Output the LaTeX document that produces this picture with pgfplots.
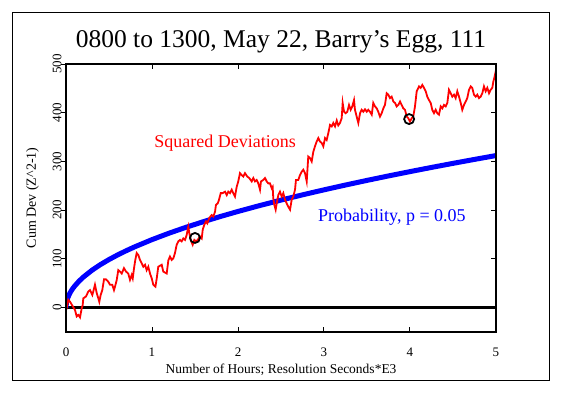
\documentclass[border=0pt]{standalone}
\usepackage{fontspec}
\setmainfont{Liberation Serif}
\usepackage{pgfplots}
\pgfplotsset{compat=1.18}

\begin{document}
\begin{tikzpicture}[x=1pt,y=1pt]
\useasboundingbox (0,0) rectangle (562,396);
\draw[line width=1pt] (12.5,15) rectangle (549.5,383);
\begin{axis}[
  at={(66pt,64pt)}, anchor=south west, scale only axis,
  width=430pt, height=268pt,
  xmin=0, xmax=5, ymin=-50, ymax=500,
  axis line style={line width=1.2pt},
  xtick={0,1,2,3,4,5}, ytick={0,100,200,300,400,500},
  xtick pos=both, xtick align=inside,
  ytick pos=left, ytick align=outside,
  major tick length=5pt,
  every tick/.style={black, line width=1pt},
  /pgf/number format/assume math mode=true,
  ticklabel style={font=\fontsize{13}{15}\selectfont},
  xticklabel style={yshift=-12pt},
  yticklabel style={xshift=4pt, rotate=90, anchor=south},
]
\addplot[black, line width=2.5pt] coordinates {(0,0) (5,0)};
\addplot[blue, line width=5pt] coordinates {
(0,0) (0.005,9.87) (0.01,13.96) (0.02,19.74) (0.04,27.92) (0.06,34.19) (0.08,39.48)
(0.1,44.14) (0.15,54.06) (0.2,62.42) (0.3,76.45) (0.4,88.28) (0.5,98.70) (0.6,108.12)
(0.7,116.78) (0.8,124.84) (1.0,139.58) (1.2,152.90) (1.4,165.15) (1.6,176.55) (1.8,187.27)
(2.0,197.40) (2.25,209.37) (2.5,220.70) (2.75,231.47) (3.0,241.76) (3.25,251.63)
(3.5,261.13) (3.75,270.30) (4.0,279.16) (4.25,287.75) (4.5,296.10) (4.75,304.21) (5.0,312.11)
};
\addplot[red, line width=1.8pt] coordinates {
(0.000,0) (0.008,-1) (0.027,16) (0.047,12) (0.078,3) (0.105,-5) (0.124,-18) (0.143,-15)
(0.163,-20) (0.183,-1) (0.194,5) (0.201,19) (0.233,23) (0.259,33) (0.279,36) (0.306,26)
(0.317,33) (0.337,47) (0.357,30) (0.376,19) (0.387,12) (0.403,26) (0.422,36) (0.442,58)
(0.465,58) (0.492,53) (0.512,47) (0.538,47) (0.558,36) (0.570,43) (0.590,57) (0.608,77)
(0.628,74) (0.648,70) (0.674,81) (0.698,74) (0.724,70) (0.744,57) (0.764,67) (0.776,60)
(0.791,81) (0.806,98) (0.822,112) (0.841,108) (0.860,98) (0.880,91) (0.899,84) (0.919,88)
(0.938,77) (0.957,84) (0.977,70) (0.997,60) (1.015,47) (1.040,43) (1.055,60) (1.073,84)
(1.113,88) (1.131,74) (1.171,70) (1.190,97) (1.209,105) (1.229,98) (1.248,101) (1.267,112)
(1.287,129) (1.306,136) (1.326,139) (1.345,136) (1.364,142) (1.384,139) (1.403,149)
(1.422,166) (1.434,153) (1.450,139) (1.473,129) (1.492,139) (1.512,136) (1.531,139)
(1.558,146) (1.578,142) (1.590,160) (1.608,170) (1.628,177) (1.643,173) (1.666,184)
(1.694,190) (1.713,187) (1.733,197) (1.744,211) (1.764,214) (1.779,221) (1.799,235)
(1.822,235) (1.849,238) (1.869,231) (1.887,238) (1.907,235) (1.927,242) (1.945,235)
(1.965,228) (1.985,248) (2.003,259) (2.023,276) (2.043,272) (2.062,269) (2.081,276)
(2.108,269) (2.131,266) (2.159,259) (2.178,266) (2.198,259) (2.217,262) (2.236,255)
(2.256,242) (2.267,259) (2.294,262) (2.314,266) (2.334,259) (2.352,255) (2.372,255)
(2.392,245) (2.403,248) (2.410,225) (2.422,211) (2.438,201) (2.450,214) (2.469,231)
(2.488,238) (2.508,228) (2.527,235) (2.547,221) (2.566,214) (2.585,207) (2.605,201)
(2.624,221) (2.643,228) (2.663,242) (2.674,262) (2.701,262) (2.721,272) (2.741,279)
(2.759,283) (2.779,276) (2.799,259) (2.810,290) (2.817,310) (2.837,307) (2.857,300)
(2.876,320) (2.895,331) (2.915,341) (2.934,348) (2.953,341) (2.973,338) (2.992,331)
(3.012,348) (3.031,344) (3.050,358) (3.070,375) (3.090,372) (3.108,379) (3.128,372)
(3.148,384) (3.166,374) (3.186,379) (3.206,389) (3.217,420) (3.233,402) (3.252,399)
(3.271,402) (3.291,416) (3.310,406) (3.329,413) (3.349,426) (3.360,406) (3.380,392)
(3.399,379) (3.419,399) (3.438,406) (3.457,402) (3.477,407) (3.497,402) (3.515,406)
(3.535,402) (3.555,396) (3.573,420) (3.593,413) (3.613,409) (3.631,402) (3.651,392)
(3.671,399) (3.690,409) (3.709,416) (3.729,440) (3.748,437) (3.767,430) (3.787,433)
(3.806,423) (3.826,420) (3.845,413) (3.864,416) (3.884,423) (3.903,416) (3.922,409)
(3.942,406) (3.962,392) (3.980,389) (4.000,382) (4.020,389) (4.038,392) (4.058,413)
(4.078,444) (4.097,451) (4.105,454) (4.124,451) (4.143,457) (4.163,451) (4.183,444)
(4.201,433) (4.221,426) (4.241,420) (4.259,406) (4.279,399) (4.299,406) (4.317,399)
(4.337,396) (4.357,413) (4.376,409) (4.395,416) (4.415,413) (4.434,420) (4.453,447)
(4.473,440) (4.492,433) (4.512,437) (4.531,430) (4.550,444) (4.570,433) (4.590,420)
(4.608,406) (4.628,416) (4.648,423) (4.666,430) (4.686,447) (4.706,454) (4.724,451)
(4.744,437) (4.764,433) (4.783,437) (4.802,430) (4.822,433) (4.841,440) (4.860,454)
(4.880,444) (4.899,451) (4.919,440) (4.938,447) (4.957,451) (4.969,464) (4.980,471)
(4.997,485) (5.000,468)
};
\addplot[only marks, mark=o, mark size=5pt, black, line width=1.8pt] coordinates {(1.50,143) (3.99,387)};
\node[red, font=\fontsize{18}{20}\selectfont] at (axis cs:1.85,338) {Squared Deviations};
\node[blue, font=\fontsize{18}{20}\selectfont] at (axis cs:3.79,186) {Probability, p = 0.05};
\end{axis}
\begin{axis}[
  at={(66pt,64pt)}, anchor=south west, scale only axis,
  width=430pt, height=268pt,
  xmin=0, xmax=5, ymin=-50, ymax=500,
  axis line style={line width=1.2pt},
  xtick=\empty, ytick={0,100,200,300,400,500}, yticklabels={},
  ytick pos=right, tick align=inside, major tick length=5pt,
  every tick/.style={black, line width=1pt},
]
\end{axis}
\node[font=\fontsize{25.5}{30}\selectfont] at (281,354) {0800 to 1300, May 22, Barry's Egg, 111};
\node[font=\fontsize{13.5}{16}\selectfont] at (281,26) {Number of Hours; Resolution Seconds*E3};
\node[rotate=90, font=\fontsize{14}{16}\selectfont] at (32.5,198) {Cum Dev (Z\textasciicircum 2-1)};
\end{tikzpicture}
\end{document}
